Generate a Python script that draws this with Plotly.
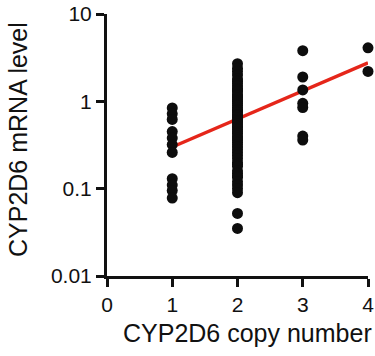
import plotly.graph_objects as go

# Data
copy1 = [0.84, 0.72, 0.62, 0.45, 0.38, 0.32, 0.26, 0.13, 0.11, 0.095, 0.078]
copy2 = [2.7, 2.4, 2.2, 2.0, 1.8, 1.7, 1.6, 1.5, 1.4, 1.35, 1.3, 1.2, 1.15, 1.1,
         1.05, 1.0, 0.95, 0.9, 0.85, 0.8, 0.78, 0.75, 0.7, 0.68, 0.65, 0.62, 0.6,
         0.58, 0.55, 0.52, 0.5, 0.48, 0.45, 0.43, 0.4, 0.38, 0.36, 0.34, 0.32,
         0.3, 0.28, 0.26, 0.24, 0.22, 0.2, 0.19, 0.18, 0.16, 0.15, 0.14, 0.135,
         0.12, 0.11, 0.1, 0.09, 0.052, 0.035]
copy3 = [3.8, 1.9, 1.35, 0.95, 0.85, 0.4, 0.36]
copy4 = [4.1, 2.2]

fit_x = [1, 4]
fit_y = [0.30, 2.75]

x_ticks = [0, 1, 2, 3, 4]
y_ticks = [0.01, 0.1, 1, 10]
y_tick_labels = ["0.01", "0.1", "1", "10"]

x_title = "CYP2D6 copy number"
y_title = "CYP2D6 mRNA level"

xs = [1] * len(copy1) + [2] * len(copy2) + [3] * len(copy3) + [4] * len(copy4)
ys = copy1 + copy2 + copy3 + copy4

FONT = "Arial, 'Liberation Sans', Helvetica, sans-serif"
W, H = 375, 356
L, R, T, B = 107, 7, 14, 80
PW, PH = W - L - R, H - T - B

fig = go.Figure()
fig.add_trace(go.Scatter(x=fit_x, y=fit_y, mode="lines",
                         line=dict(color="#e5261a", width=3.5),
                         hoverinfo="skip", showlegend=False))
fig.add_trace(go.Scatter(x=xs, y=ys, mode="markers",
                         marker=dict(color="#0d0d0d", size=11, line=dict(width=0)),
                         cliponaxis=False, showlegend=False))

fig.update_layout(
    width=W, height=H,
    margin=dict(l=L, r=R, t=T, b=B, autoexpand=False),
    paper_bgcolor="white", plot_bgcolor="white",
    font=dict(family=FONT, color="#111", size=18),
    showlegend=False,
    annotations=[
        dict(text=x_title, xref="paper", yref="paper",
             x=(247 - L) / PW, y=-(333 - (T + PH)) / PH,
             xanchor="center", yanchor="middle", showarrow=False,
             font=dict(size=25, family=FONT, color="#111")),
        dict(text=y_title, xref="paper", yref="paper",
             x=(18 - L) / PW, y=1 - (140 - T) / PH, textangle=-90,
             xanchor="center", yanchor="middle", showarrow=False,
             font=dict(size=25, family=FONT, color="#111")),
    ],
)
fig.update_xaxes(
    range=[0, 4], tickvals=x_ticks, ticktext=[str(v) for v in x_ticks],
    showgrid=False, zeroline=False, automargin=False,
    showline=True, linecolor="#111", linewidth=3,
    ticks="outside", ticklen=8, tickwidth=3, tickcolor="#111",
    tickfont=dict(size=21, family=FONT), ticklabeloverflow="allow",
)
fig.update_yaxes(
    type="log", range=[-2, 1], tickvals=y_ticks, ticktext=y_tick_labels,
    showgrid=False, zeroline=False, automargin=False,
    showline=True, linecolor="#111", linewidth=3,
    ticks="outside", ticklen=8, tickwidth=3, tickcolor="#111",
    tickfont=dict(size=21, family=FONT), ticklabeloverflow="allow",
)

fig.write_html("out.html", config={"displayModeBar": False},
               post_script="document.body.style.margin='0';")
